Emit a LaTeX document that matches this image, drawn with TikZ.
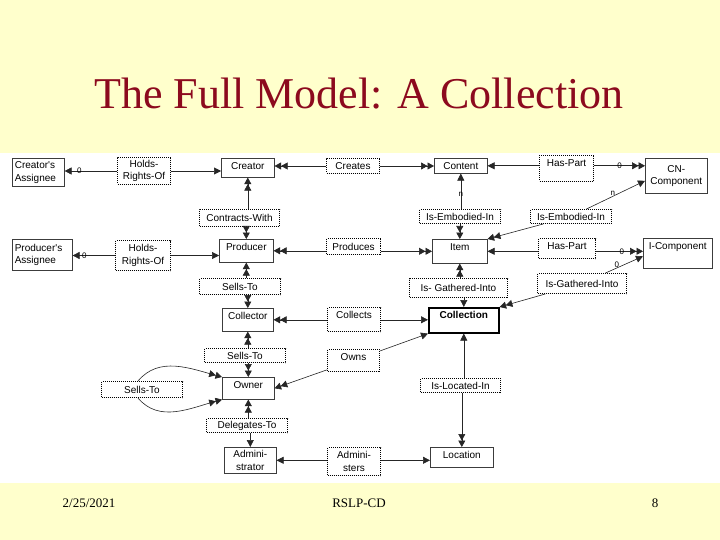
\documentclass[tikz,border=0pt]{standalone}
\usepackage{fontspec}
\setmainfont{Liberation Serif}
\newfontfamily\diafont{Liberation Sans}
\usetikzlibrary{arrows.meta}
\definecolor{slidebg}{RGB}{255,255,204}
\definecolor{titlered}{RGB}{140,10,30}
\definecolor{boxline}{RGB}{60,60,60}

\begin{document}
\begin{tikzpicture}[
  x=1pt, y=-1pt,
  every node/.style={font=\diafont\fontsize{10}{12.5}\selectfont},
  entity/.style={draw=boxline, line width=0.6pt, fill=white, anchor=north west, inner sep=2pt, align=center},
  rel/.style={draw, densely dotted, line width=1pt, fill=white, anchor=north west, inner sep=2pt, align=center},
  hang/.style={text height=9pt, text depth=#1},
  card/.style={font=\diafont\fontsize{8}{9}\selectfont, inner sep=0.5pt},
  sa/.style={-{Triangle[length=7pt,width=7pt]}, draw=black!85, line width=0.6pt},
  da/.style={-{Triangle[length=6.5pt,width=7pt]Triangle[length=6.5pt,width=7pt]}, draw=black!85, line width=0.6pt},
]
  % slide background and diagram band
  \useasboundingbox (0,0) rectangle (720,540);
  \fill[slidebg] (0,0) rectangle (720,540);
  \fill[white] (0,153) rectangle (720,483);

  % title and footer
  \node[font=\fontsize{44}{50}\selectfont, text=titlered] (title) at (359,94) {The Full Model: A Collection};
  \node[font=\fontsize{13}{15}\selectfont] (date) at (89,503) {2/25/2021};
  \node[font=\fontsize{13}{15}\selectfont] (event) at (359,503) {RSLP-CD};
  \node[font=\fontsize{13}{15}\selectfont] (page) at (655,503) {8};

  % entities
  \node[entity, minimum width=52pt, minimum height=28pt, text width=47pt, align=left] (cass) at (12,158) {Creator's\\Assignee};
  \node[entity, minimum width=53pt, minimum height=19pt, hang=6pt] (creator) at (221,158) {Creator};
  \node[entity, minimum width=53pt, minimum height=15pt] (content) at (434,158) {Content};
  \node[entity, minimum width=62pt, minimum height=35pt] (cncomp) at (645,158) {CN-\\Component};
  \node[entity, minimum width=60pt, minimum height=31pt, text width=55pt, align=left] (pass) at (12,239) {Producer's\\Assignee};
  \node[entity, minimum width=54pt, minimum height=23pt, hang=10pt] (producer) at (219,239) {Producer};
  \node[entity, minimum width=55pt, minimum height=24pt, hang=11pt] (item) at (432,239) {Item};
  \node[entity, minimum width=69pt, minimum height=30pt, hang=17pt] (icomp) at (643,238) {I-Component};
  \node[entity, minimum width=51pt, minimum height=23pt, hang=10pt] (collector) at (222,308) {Collector};
  \node[entity, minimum width=70pt, minimum height=25pt, hang=12pt, draw=black, line width=1.6pt,
        font=\diafont\bfseries\fontsize{10}{12.5}\selectfont] (collection) at (428,307) {Collection};
  \node[entity, minimum width=52pt, minimum height=22pt, hang=9pt] (owner) at (222,377) {Owner};
  \node[entity, minimum width=52pt, minimum height=26pt] (admin) at (224,447) {Admini-\\strator};
  \node[entity, minimum width=63pt, minimum height=20pt, hang=7pt] (location) at (430,447) {Location};

  % relationships
  \node[rel, minimum width=53pt, minimum height=27pt] (hro1) at (117,157) {Holds-\\Rights-Of};
  \node[rel, minimum width=53pt, minimum height=15pt] (creates) at (326,158) {Creates};
  \node[rel, minimum width=54pt, minimum height=26pt, hang=13pt] (haspart1) at (539,155) {Has-Part};
  \node[rel, minimum width=80pt, minimum height=17pt] (contracts) at (199,209) {Contracts-With};
  \node[rel, minimum width=81pt, minimum height=14pt] (iemb1) at (419,209) {Is-Embodied-In};
  \node[rel, minimum width=81pt, minimum height=14pt] (iemb2) at (530,209) {Is-Embodied-In};
  \node[rel, minimum width=55pt, minimum height=30pt] (hro2) at (115,240) {Holds-\\Rights-Of};
  \node[rel, minimum width=54pt, minimum height=16pt] (produces) at (326,238) {Produces};
  \node[rel, minimum width=57pt, minimum height=20pt, hang=7pt] (haspart2) at (538,238) {Has-Part};
  \node[rel, minimum width=81pt, minimum height=16pt] (sells1) at (199,278) {Sells-To};
  \node[rel, minimum width=98pt, minimum height=19pt] (igi1) at (409,278) {Is- Gathered-Into};
  \node[rel, minimum width=89pt, minimum height=20pt] (igi2) at (537,273) {Is-Gathered-Into};
  \node[rel, minimum width=53pt, minimum height=24pt, hang=11pt] (collects) at (327,307) {Collects};
  \node[rel, minimum width=81pt, minimum height=14pt] (sells2) at (204,348) {Sells-To};
  \node[rel, minimum width=52pt, minimum height=22pt, hang=9pt] (owns) at (327,349) {Owns};
  \node[rel, minimum width=81pt, minimum height=16pt] (sells3) at (101,381) {Sells-To};
  \node[rel, minimum width=80pt, minimum height=14pt] (isloc) at (420,378) {Is-Located-In};
  \node[rel, minimum width=81pt, minimum height=14pt] (deleg) at (206,418) {Delegates-To};
  \node[rel, minimum width=53pt, minimum height=28pt] (adminis) at (327,447) {Admini-\\sters};

  % top row
  \draw[sa] (hro1.west) -- node[card, pos=0.72]{0} (cass.east |- hro1.west);
  \draw[sa] (hro1.east) -- (creator.west |- hro1.east);
  \draw[da] (creates.west) -- (creator.east |- creates.west);
  \draw[da] (creates.east) -- (content.west |- creates.east);
  \draw[sa] (haspart1.west |- content.east) -- (content.east);
  \draw[da] (haspart1.east |- content.east) -- node[card, pos=0.5]{0} (cncomp.west |- content.east);
  \draw[da] (contracts.north -| creator.south) -- (creator.south);
  \draw[da] (contracts.south -| producer.north) -- (producer.north);
  \draw[sa] (iemb1.north -| content.south) -- node[card, pos=0.4]{n} (content.south);
  \draw[da] (iemb1.south -| item.north) -- (item.north);
  \draw[da] (iemb2) -- (item.north east);
  \draw[sa] (iemb2) -- node[card, above, pos=0.45]{n} ([yshift=-5pt]cncomp.west);

  % middle row
  \draw[sa] (hro2.west) -- node[card, pos=0.72]{0} (pass.east |- hro2.west);
  \draw[sa] (hro2.east) -- (producer.west |- hro2.east);
  \draw[da] (produces.west |- producer.east) -- (producer.east);
  \draw[da] (produces.east |- item.west) -- (item.west);
  \draw[sa] (haspart2.west |- item.east) -- (item.east);
  \draw[da] (haspart2.east |- item.east) -- node[card, pos=0.55]{0} (icomp.west |- item.east);
  \draw[da] (sells1.north -| producer.south) -- (producer.south);
  \draw[da] (sells1.south -| collector.north) -- (collector.north);
  \draw[da] (igi1.north -| item.south) -- (item.south);
  \draw[sa] (igi1.south -| collection.north) -- (collection.north);
  \draw[da] (igi2) -- (collection.north east);
  \draw[sa] (igi2) -- node[card, above, pos=0.3]{0} ([yshift=-3pt]icomp.west);

  % lower rows
  \draw[da] (collects.west |- collector.east) -- (collector.east);
  \draw[sa] (collects.east |- collector.east) -- (collection.west |- collector.east);
  \draw[da] (sells2.north -| collector.south) -- (collector.south);
  \draw[da] (sells2.south -| owner.north) -- (owner.north);
  \draw[da] (owns) -- (owner.east);
  \draw[sa] (owns) -- (collection.south west);
  \draw[da] ([xshift=-4pt]sells3.north) to[out=50, in=165] (owner.north west);
  \draw[da] ([xshift=-4pt]sells3.south) to[out=-50, in=195] (owner.south west);
  \draw[da] (deleg.north -| owner.south) -- (owner.south);
  \draw[sa] (deleg.south -| admin.north) -- (admin.north);
  \draw[sa] (isloc.north -| collection.south) -- (collection.south);
  \draw[da] (isloc.south -| location.north) -- (location.north);
  \draw[sa] (adminis.west |- admin.east) -- (admin.east);
  \draw[sa] (adminis.east |- admin.east) -- (location.west |- admin.east);
\end{tikzpicture}
\end{document}
